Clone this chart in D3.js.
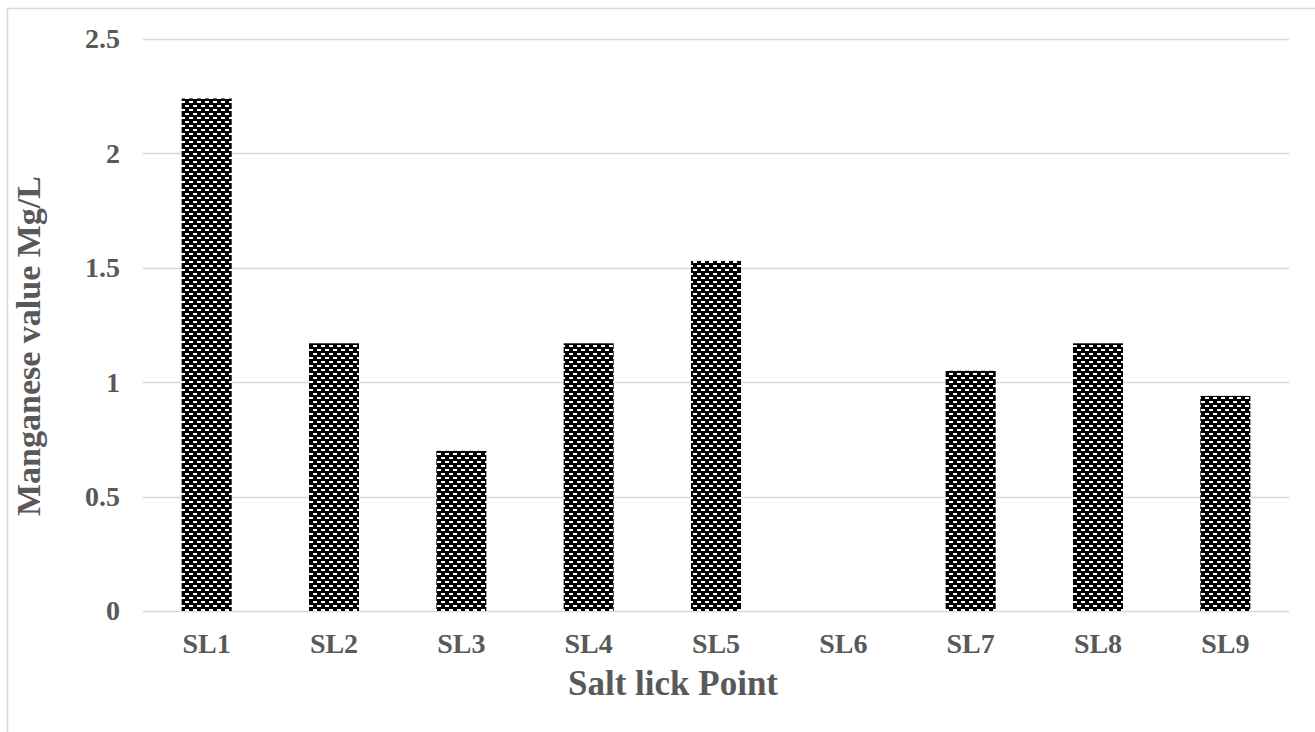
<!DOCTYPE html>
<html>
<head>
<meta charset="utf-8">
<script src="https://cdn.jsdelivr.net/npm/d3@7"></script>
<style>
  html, body { margin: 0; padding: 0; background: #fff; }
  svg { display: block; }
</style>
</head>
<body>
<script>
const categories = ["SL1", "SL2", "SL3", "SL4", "SL5", "SL6", "SL7", "SL8", "SL9"];
const manganeseValues = [2.24, 1.17, 0.70, 1.17, 1.53, 0, 1.05, 1.17, 0.94];
const yTicks = [0, 0.5, 1, 1.5, 2, 2.5];
const yTickLabels = ["0", "0.5", "1", "1.5", "2", "2.5"];
const xTitle = "Salt lick Point";
const yTitle = "Manganese value Mg/L";

const W = 1315, H = 732;
const margin = { left: 143, right: W - 1289, top: 39, bottom: H - 611 };

const svg = d3.select("body").append("svg").attr("width", W).attr("height", H);

// pattern
const defs = svg.append("defs");
const pat = defs.append("pattern").attr("id", "brick")
  .attr("patternUnits", "userSpaceOnUse").attr("width", 8).attr("height", 8);
pat.append("rect").attr("width", 8).attr("height", 8).attr("fill", "#000");
pat.append("rect").attr("x", 1).attr("y", 1).attr("width", 4).attr("height", 2).attr("fill", "#fff");
pat.append("rect").attr("x", 5).attr("y", 5).attr("width", 3).attr("height", 2).attr("fill", "#fff");
pat.append("rect").attr("x", 0).attr("y", 5).attr("width", 1).attr("height", 2).attr("fill", "#fff");

// chart frame
svg.append("rect").attr("x", 7.5).attr("y", 8.5).attr("width", W + 10).attr("height", H + 10)
  .attr("fill", "none").attr("stroke", "#d9d9d9").attr("stroke-width", 1.5);

const x = d3.scaleBand().domain(categories).range([margin.left, W - margin.right]).paddingInner(0.607).paddingOuter(0.3035);
const y = d3.scaleLinear().domain([0, 2.5]).range([H - margin.bottom, margin.top]);

// gridlines
svg.append("g").selectAll("line").data(yTicks).join("line")
  .attr("x1", margin.left).attr("x2", W - margin.right)
  .attr("y1", d => Math.round(y(d)) + 0.5).attr("y2", d => Math.round(y(d)) + 0.5)
  .attr("stroke", "#d9d9d9").attr("stroke-width", 1.5);

// bars
svg.append("g").selectAll("rect").data(manganeseValues).join("rect")
  .attr("x", (d, i) => x(categories[i]))
  .attr("y", d => y(d))
  .attr("width", x.bandwidth())
  .attr("height", d => y(0) - y(d))
  .attr("fill", "url(#brick)");

const font = "'Liberation Serif', 'Times New Roman', serif";
const col = "#595959";

// y axis
const yAxis = d3.axisLeft(y).tickValues(yTicks).tickFormat((d, i) => yTickLabels[i]).tickSize(0).tickPadding(23);
const gy = svg.append("g").attr("transform", `translate(${margin.left},0)`).call(yAxis);
gy.select(".domain").remove();
gy.selectAll("text").attr("font-family", font).attr("font-weight", "bold").attr("font-size", 28).attr("fill", col);

// x axis
const xAxis = d3.axisBottom(x).tickSize(0).tickPadding(22);
const gx = svg.append("g").attr("transform", `translate(0,${H - margin.bottom})`).call(xAxis);
gx.select(".domain").remove();
gx.selectAll("text").attr("font-family", font).attr("font-weight", "bold").attr("font-size", 28).attr("fill", col);

// titles
svg.append("text").attr("x", 673).attr("y", 695)
  .attr("text-anchor", "middle").attr("font-family", font).attr("font-weight", "bold")
  .attr("font-size", 35).attr("fill", col).text(xTitle);
svg.append("text").attr("transform", `translate(40,346) rotate(-90)`)
  .attr("text-anchor", "middle").attr("font-family", font).attr("font-weight", "bold")
  .attr("font-size", 34).attr("fill", col).text(yTitle);
</script>
</body>
</html>
